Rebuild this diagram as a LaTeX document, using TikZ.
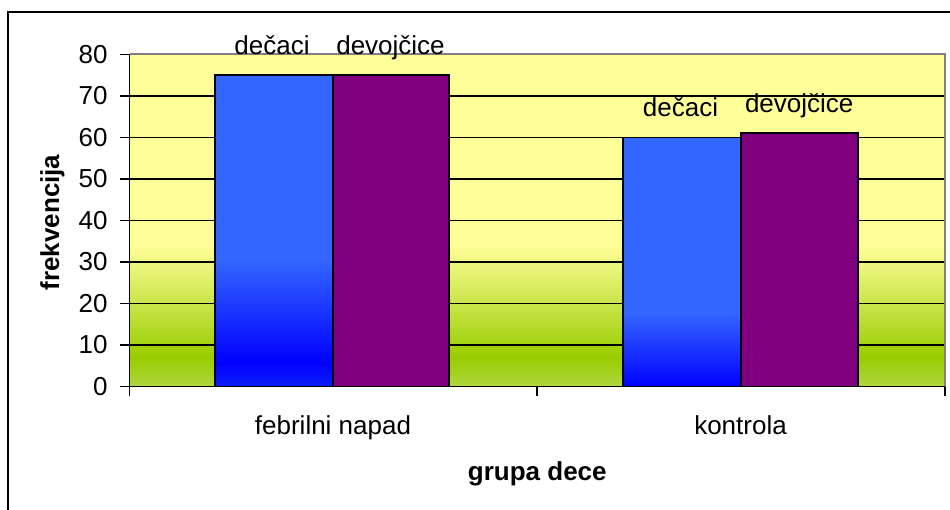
\documentclass[tikz,border=0pt]{standalone}
\usepackage{fontspec}
\setmainfont{Liberation Sans}
\definecolor{bgyellow}{HTML}{FFFF99}
\definecolor{bggreen}{HTML}{99CC00}
\definecolor{bglight}{RGB}{176,214,64}
\definecolor{barblue}{HTML}{3366FF}
\definecolor{bardark}{HTML}{0000FF}
\definecolor{barlow}{RGB}{10,30,245}
\definecolor{barpurple}{HTML}{800080}
\definecolor{plotgray}{RGB}{128,128,128}
\begin{document}
\begin{tikzpicture}[x=1pt,y=-1pt,
  lbl/.style={font=\fontsize{26}{31}\selectfont, inner sep=0pt, text=black},
  boldlbl/.style={font=\fontsize{26}{31}\selectfont\bfseries, inner sep=0pt, text=black},
  gridl/.style={line width=1.6pt, black},
  barline/.style={line width=1.8pt, black},
  axisl/.style={line width=1.8pt, black},
  framel/.style={line width=2pt, black}]
\useasboundingbox (0,0) rectangle (950,510);
% outer chart frame
\draw[framel] (950,12) -- (8,12) -- (8,510);
% plot area background
\fill[bgyellow] (129.5,54.5) rectangle (945,246);
\shade[top color=bgyellow, bottom color=bggreen] (129.5,245) rectangle (945,357.5);
\shade[top color=bggreen, bottom color=bglight] (129.5,357) rectangle (945,386.5);
% gridlines
\foreach \yy in {96,137.5,179,220.5,262,303.5,345}
  \draw[gridl] (129.5,\yy) -- (945,\yy);
% plot area border
\draw[plotgray, line width=2pt] (129.5,54.5) -- (945,54.5) -- (945,386.5);
% bars group 1
\fill[barblue] (215,75.25) rectangle (333.3,261);
\shade[top color=barblue, bottom color=bardark] (215,260) rectangle (333.3,363);
\shade[top color=bardark, bottom color=barlow] (215,362.5) rectangle (333.3,386.5);
\draw[barline] (215,386.5) rectangle (333.3,75.25);
\fill[barpurple] (333.3,75.25) rectangle (449.3,386.5);
\draw[barline] (333.3,386.5) rectangle (449.3,75.25);
% bars group 2
\fill[barblue] (622.7,137.5) rectangle (741,314);
\shade[top color=barblue, bottom color=bardark] (622.7,313) rectangle (741,386.5);
\draw[barline] (622.7,386.5) rectangle (741,137.5);
\fill[barpurple] (741,133.35) rectangle (858.3,386.5);
\draw[barline] (741,386.5) rectangle (858.3,133.35);
% axes
\draw[axisl] (129.5,54.5) -- (129.5,395.5);
\draw[axisl] (129.5,386.5) -- (945,386.5);
\foreach \v in {0,10,...,80}
  \draw[axisl] (120,{386.5-4.15*\v}) -- (129.5,{386.5-4.15*\v});
\draw[axisl] (537.3,386.5) -- (537.3,395.5);
\draw[axisl] (945,386.5) -- (945,395.5);
% tick labels
\foreach \v in {0,10,...,80}
  \node[lbl, anchor=east] (tl\v) at (107.7,{386.5-4.15*\v}) {\v};
% bar labels
\node[lbl, anchor=base] (lab1) at (272,55) {dečaci};
\node[lbl, anchor=base] (lab2) at (390.5,55) {devojčice};
\node[lbl, anchor=base] (lab3) at (680.5,116.7) {dečaci};
\node[lbl, anchor=base] (lab4) at (799.2,113) {devojčice};
% category labels
\node[lbl, anchor=base] (cat1) at (333,434) {febrilni napad};
\node[lbl, anchor=base] (cat2) at (740.5,434) {kontrola};
% axis titles
\node[boldlbl, anchor=base] (xtitle) at (537.3,480) {grupa dece};
\node[boldlbl, rotate=90] (ytitle) at (52.5,222.5) {frekvencija};
\end{tikzpicture}
\end{document}
